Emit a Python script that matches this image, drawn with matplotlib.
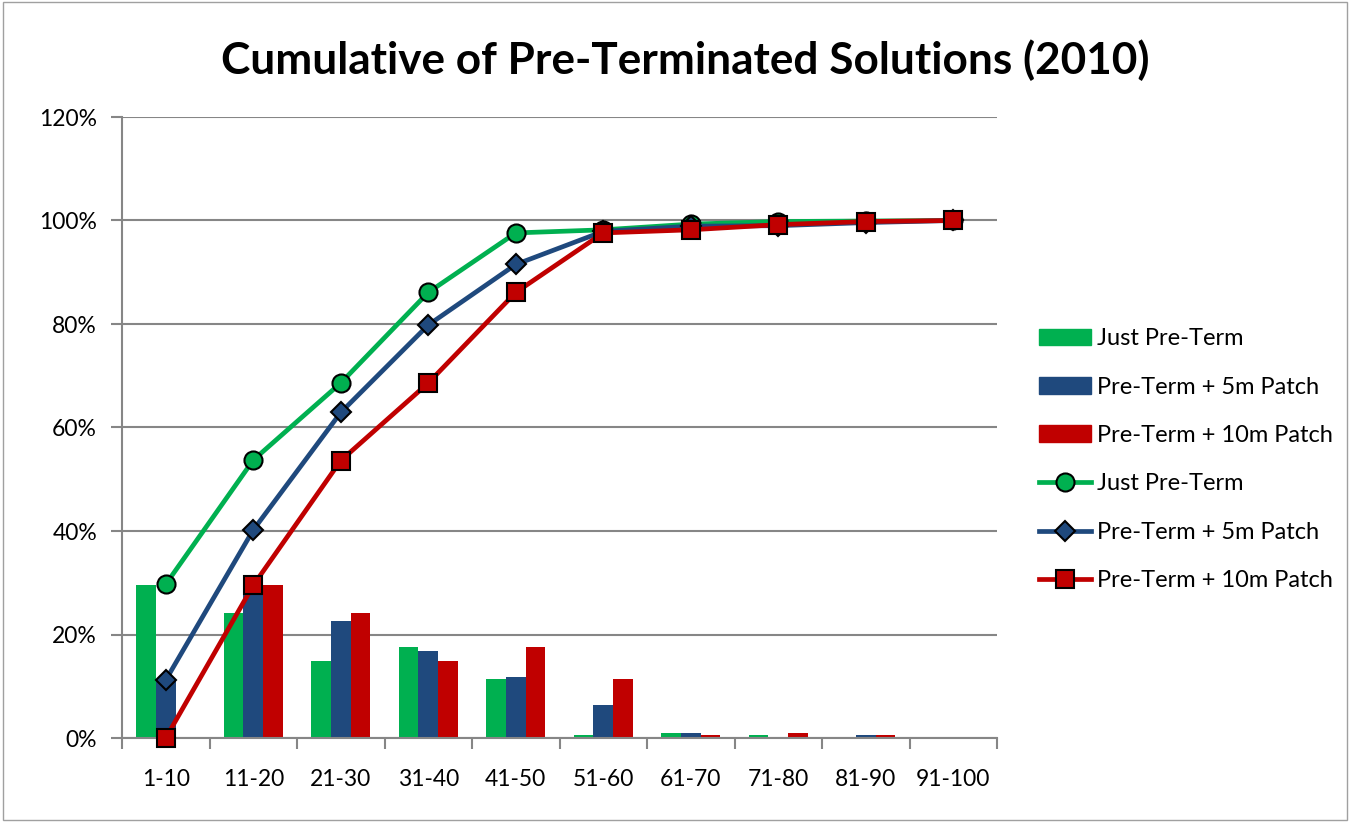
import matplotlib
matplotlib.use("Agg")
import matplotlib.pyplot as plt
from matplotlib.patches import Patch, Rectangle
from matplotlib.lines import Line2D
import numpy as np

plt.rcParams['font.family'] = ['Lato', 'DejaVu Sans']

categories = ["1-10", "11-20", "21-30", "31-40", "41-50", "51-60", "61-70", "71-80", "81-90", "91-100"]
bar_just = [29.5, 24.2, 14.9, 17.6, 11.4, 0.6, 1.0, 0.6, 0.1, 0.0]
bar_5m = [11.2, 29.0, 22.6, 16.9, 11.8, 6.4, 1.0, 0.1, 0.6, 0.0]
bar_10m = [0.0, 29.5, 24.2, 14.9, 17.6, 11.4, 0.6, 1.0, 0.6, 0.1]
cum_just = [29.7, 53.7, 68.6, 86.1, 97.6, 98.2, 99.3, 99.8, 99.9, 100.0]
cum_5m = [11.2, 40.2, 62.9, 79.8, 91.5, 97.9, 98.9, 99.0, 99.6, 100.0]
cum_10m = [0.0, 29.5, 53.6, 68.6, 86.1, 97.6, 98.2, 99.2, 99.8, 100.0]
series_names = ["Just Pre-Term", "Pre-Term + 5m Patch", "Pre-Term + 10m Patch"]
yticks = [0, 20, 40, 60, 80, 100, 120]

GREEN = "#00B050"
BLUE = "#1F497D"
RED = "#C00000"
GRID = "#868686"

fig = plt.figure(figsize=(13.5, 8.22), dpi=100)
fig.patches.append(Rectangle((0.002, 0.002), 0.996, 0.996, transform=fig.transFigure,
                             fill=False, edgecolor="#A0A0A0", linewidth=1.0))
ax = fig.add_axes([122/1350, 1-738/822, (997-122)/1350, (738-117)/822])

x = np.arange(len(categories))
w = 0.225
ax.bar(x - w, bar_just, width=w, color=GREEN, zorder=2)
ax.bar(x, bar_5m, width=w, color=BLUE, zorder=2)
ax.bar(x + w, bar_10m, width=w, color=RED, zorder=2)

ax.plot(x, cum_just, color=GREEN, lw=3.4, marker='o', ms=13, mfc=GREEN, mec='black', mew=1.5, zorder=4, clip_on=False)
ax.plot(x, cum_5m, color=BLUE, lw=3.4, marker='D', ms=10, mfc=BLUE, mec='black', mew=1.5, zorder=5, clip_on=False)
ax.plot(x, cum_10m, color=RED, lw=3.4, marker='s', ms=13, mfc=RED, mec='black', mew=1.5, zorder=6, clip_on=False)

ax.set_xlim(-0.5, len(categories) - 0.5)
ax.set_ylim(0, 120)
ax.set_yticks(yticks)
ax.set_yticklabels([f"{v}%" for v in yticks])
ax.yaxis.grid(True, color=GRID, lw=1.5, zorder=0)
ax.set_axisbelow(True)
ax.set_xticks(x)
ax.set_xticklabels(categories)
ax.set_xticks(np.arange(-0.5, len(categories)), minor=True)
ax.tick_params(axis='x', which='major', length=0, pad=22, labelsize=16.5)
ax.tick_params(axis='x', which='minor', length=8, width=1.5, color=GRID)
ax.tick_params(axis='y', length=8, width=1.5, color=GRID, labelsize=16.5, pad=10)
for s in ['top', 'right']:
    ax.spines[s].set_visible(False)
for s in ['left', 'bottom']:
    ax.spines[s].set_color(GRID)
    ax.spines[s].set_linewidth(1.5)

fig.text(685/1350, 1-60/822, "Cumulative of Pre-Terminated Solutions (2010)",
         ha='center', va='center', fontsize=31.8, fontweight='bold')

handles = [Patch(color=GREEN), Patch(color=BLUE), Patch(color=RED),
           Line2D([], [], color=GREEN, lw=3.4, marker='o', ms=13, mfc=GREEN, mec='black', mew=1.5),
           Line2D([], [], color=BLUE, lw=3.4, marker='D', ms=10, mfc=BLUE, mec='black', mew=1.5),
           Line2D([], [], color=RED, lw=3.4, marker='s', ms=13, mfc=RED, mec='black', mew=1.5)]
labels = series_names + series_names
fig.legend(handles, labels, loc='upper left', bbox_to_anchor=(1018/1350, 1-307/822),
           frameon=False, fontsize=17, handlelength=2.2, labelspacing=1.16, handletextpad=0.25)

fig.savefig("out.png", dpi=100)
